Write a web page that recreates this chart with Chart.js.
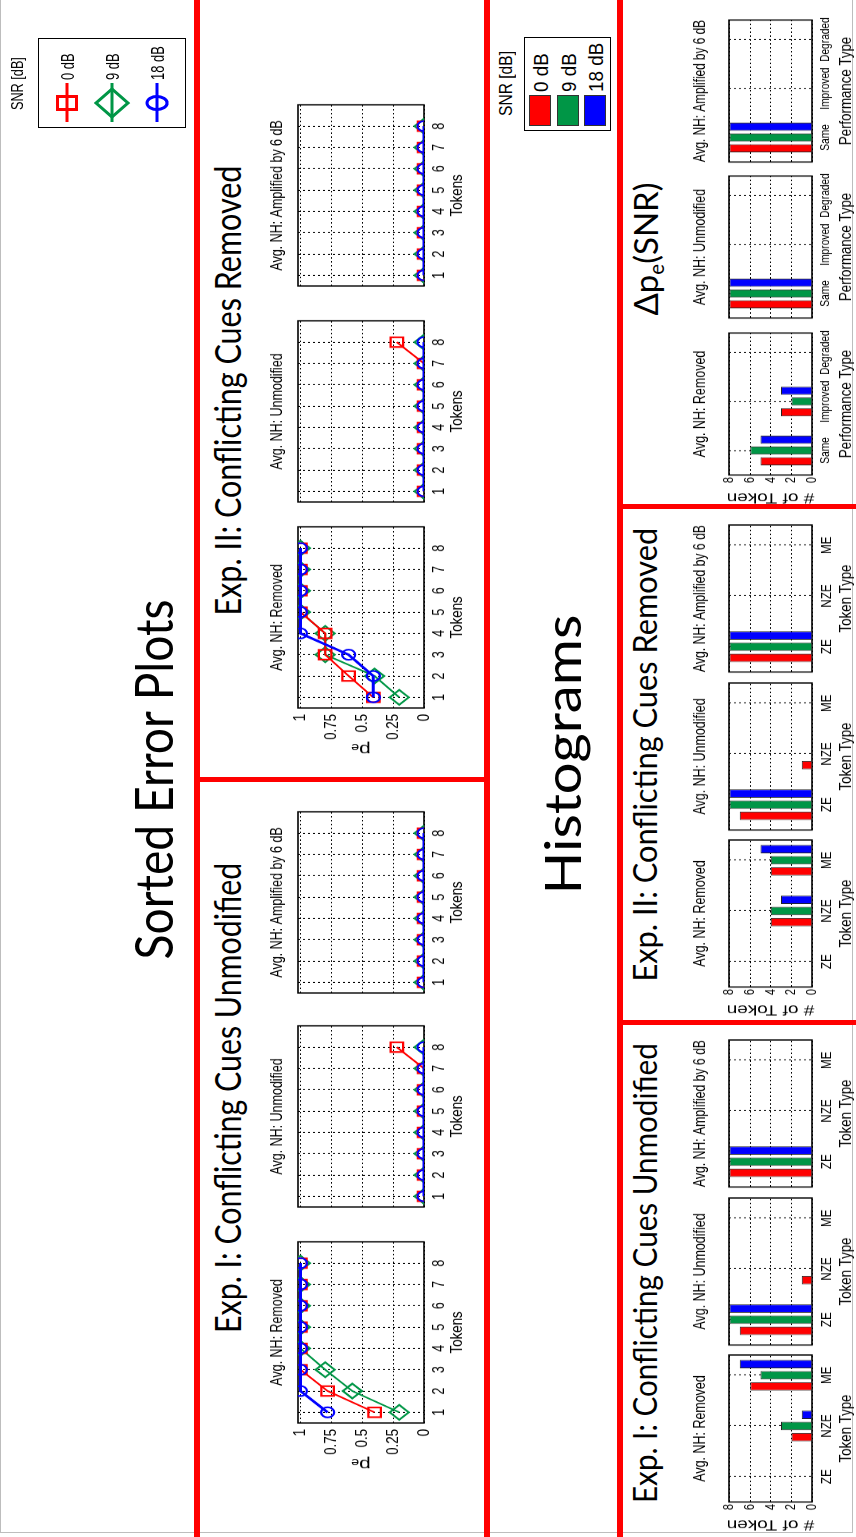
<!DOCTYPE html>
<html>
<head>
<meta charset="utf-8">
<script src="https://cdn.jsdelivr.net/npm/chart.js@4.4.1/dist/chart.umd.min.js"></script>
<style>
  html, body { margin: 0; padding: 0; background: #fff; width: 856px; height: 1537px; overflow: hidden; }
  #stage { position: absolute; left: 0; top: 0; width: 1537px; height: 856px; background: #fff;
           transform-origin: 0 0; transform: translateY(1537px) rotate(-90deg); }
  .red { position: absolute; background: #ff0000; }
  canvas { position: absolute; transform-origin: 0 0; }
  .txt { position: absolute; white-space: nowrap; line-height: 1; color: #000; }
  .legend { position: absolute; border: 1px solid #000; box-sizing: border-box; background: #fff; }
</style>
</head>
<body>
<div id="stage"></div>
<script>
/* global Chart */

const tokens = [1, 2, 3, 4, 5, 6, 7, 8];
const snrLabels = ["0 dB", "9 dB", "18 dB"];
const peTicks = [0, 0.25, 0.5, 0.75, 1];
const countTicks = [0, 2, 4, 6, 8];
const tokenTypes = ["ZE", "NZE", "ME"];
const perfTypes = ["Same", "Improved", "Degraded"];
const nhLabels = ["Avg. NH: Removed", "Avg. NH: Unmodified", "Avg. NH: Amplified by 6 dB"];

// sorted error plots, Exp. I (one array per SNR)
const exp1RemovedPe0 = [0.40, 0.78, 1, 1, 1, 1, 1, 1];
const exp1RemovedPe9 = [0.20, 0.58, 0.80, 1, 1, 1, 1, 1];
const exp1RemovedPe18 = [0.78, 1, 1, 1, 1, 1, 1, 1];
const exp1UnmodPe0 = [0, 0, 0, 0, 0, 0, 0, 0.22];
const exp1UnmodPe9 = [0, 0, 0, 0, 0, 0, 0, 0];
const exp1UnmodPe18 = [0, 0, 0, 0, 0, 0, 0, 0];
const exp1AmpPe0 = [0, 0, 0, 0, 0, 0, 0, 0];
const exp1AmpPe9 = [0, 0, 0, 0, 0, 0, 0, 0];
const exp1AmpPe18 = [0, 0, 0, 0, 0, 0, 0, 0];

// sorted error plots, Exp. II
const exp2RemovedPe0 = [0.41, 0.61, 0.80, 0.80, 1, 1, 1, 1];
const exp2RemovedPe9 = [0.20, 0.40, 0.80, 0.80, 1, 1, 1, 1];
const exp2RemovedPe18 = [0.41, 0.41, 0.61, 1, 1, 1, 1, 1];
const exp2UnmodPe0 = [0, 0, 0, 0, 0, 0, 0, 0.22];
const exp2UnmodPe9 = [0, 0, 0, 0, 0, 0, 0, 0];
const exp2UnmodPe18 = [0, 0, 0, 0, 0, 0, 0, 0];
const exp2AmpPe0 = [0, 0, 0, 0, 0, 0, 0, 0];
const exp2AmpPe9 = [0, 0, 0, 0, 0, 0, 0, 0];
const exp2AmpPe18 = [0, 0, 0, 0, 0, 0, 0, 0];

// histograms: number of tokens per token type (ZE, NZE, ME)
const exp1RemovedCount0 = [0, 2, 6];
const exp1RemovedCount9 = [0, 3, 5];
const exp1RemovedCount18 = [0, 1, 7];
const exp1UnmodCount0 = [7, 1, 0];
const exp1UnmodCount9 = [8, 0, 0];
const exp1UnmodCount18 = [8, 0, 0];
const exp1AmpCount0 = [8, 0, 0];
const exp1AmpCount9 = [8, 0, 0];
const exp1AmpCount18 = [8, 0, 0];

const exp2RemovedCount0 = [0, 4, 4];
const exp2RemovedCount9 = [0, 4, 4];
const exp2RemovedCount18 = [0, 3, 5];
const exp2UnmodCount0 = [7, 1, 0];
const exp2UnmodCount9 = [8, 0, 0];
const exp2UnmodCount18 = [8, 0, 0];
const exp2AmpCount0 = [8, 0, 0];
const exp2AmpCount9 = [8, 0, 0];
const exp2AmpCount18 = [8, 0, 0];

// delta pe(SNR): number of tokens per performance type (Same, Improved, Degraded)
const dpeRemovedCount0 = [5, 3, 0];
const dpeRemovedCount9 = [6, 2, 0];
const dpeRemovedCount18 = [5, 3, 0];
const dpeUnmodCount0 = [8, 0, 0];
const dpeUnmodCount9 = [8, 0, 0];
const dpeUnmodCount18 = [8, 0, 0];
const dpeAmpCount0 = [8, 0, 0];
const dpeAmpCount9 = [8, 0, 0];
const dpeAmpCount18 = [8, 0, 0];

const snrColors = ["#ff0000", "#009646", "#0000ff"];
const markers = ["rect", "rectRot", "circle"];
const markerSize = [8.8, 9.5, 6.5];
const lineWidths = [2, 2, 3];
const drawOrder = [1, 2, 0];

const SX = 0.78; // the figure is squeezed horizontally
const FONT = "'Liberation Sans', Arial, sans-serif";
const TXT = "#000";

const stage = document.getElementById("stage");

const framePlugin = {
  id: "frame",
  beforeDatasetsDraw(chart) {
    const a = chart.chartArea;
    const ctx = chart.ctx;
    ctx.save();
    ctx.strokeStyle = "#000";
    ctx.lineWidth = 1.6;
    ctx.strokeRect(a.left, a.top, a.right - a.left, a.bottom - a.top);
    ctx.restore();
  },
};

function makeCanvas(left, top, w, h) {
  const c = document.createElement("canvas");
  c.width = w;
  c.height = h;
  c.style.left = left + "px";
  c.style.top = top + "px";
  c.style.width = w + "px";
  c.style.height = h + "px";
  c.style.transform = "scaleX(" + SX + ")";
  stage.appendChild(c);
  return c.getContext("2d");
}

// ---- sorted error plots ----
const LINE_TOP = 298, LINE_H = 126, LINE_W = 184;

function lineChart(boxLeft, title, series, first) {
  const yw = 58, pl = 6, pr = 6, th = 28, pt = 2, xh = 45, pb = 2;
  const w = Math.round((LINE_W + yw + pl + pr) / SX);
  const h = LINE_H + th + pt + xh + pb;
  const ctx = makeCanvas(boxLeft - yw - pl, LINE_TOP - th - pt, w, h);
  return new Chart(ctx, {
    type: "line",
    data: {
      datasets: series.map((vals, k) => ({
        label: snrLabels[k],
        data: tokens.map((t, i) => ({ x: t, y: vals[i] })),
        borderColor: snrColors[k],
        backgroundColor: "rgba(0,0,0,0)",
        borderWidth: lineWidths[k],
        tension: 0,
        pointStyle: markers[k],
        pointRadius: markerSize[k],
        pointBorderWidth: 2.2,
        pointBorderColor: snrColors[k],
        pointBackgroundColor: "rgba(0,0,0,0)",
        order: drawOrder[k],
      })),
    },
    options: {
      responsive: false,
      animation: false,
      events: [],
      layout: { padding: { left: pl / SX, right: w - (pl + yw + LINE_W) / SX, top: pt, bottom: pb } },
      plugins: {
        legend: { display: false },
        tooltip: { enabled: false },
        title: {
          display: true, text: title, fullSize: false, color: TXT,
          font: { family: FONT, size: 16, weight: "normal", lineHeight: 1 },
          padding: { top: 0, bottom: 12 },
        },
      },
      scales: {
        x: {
          type: "linear", min: 0.5, max: 9,
          afterBuildTicks: (s) => { s.ticks = tokens.map((v) => ({ value: v })); },
          afterFit: (s) => { s.height = xh; },
          grid: { color: "#000", lineWidth: 1.1, drawTicks: false },
          border: { display: false, dash: [2, 3] },
          ticks: { padding: 6, color: TXT, font: { family: FONT, size: 16 }, maxRotation: 0, autoSkip: false,
                   callback: (v) => String(v) },
          title: { display: true, text: "Tokens", color: TXT, font: { family: FONT, size: 17, lineHeight: 1 },
                   padding: { top: 0, bottom: 3.5 } },
        },
        y: {
          min: 0, max: 1.02,
          afterBuildTicks: (s) => { s.ticks = peTicks.map((v) => ({ value: v })); },
          afterFit: (s) => { s.width = yw / SX; },
          grid: { color: "#000", lineWidth: 1, drawTicks: false },
          border: { display: false, dash: [2, 3] },
          ticks: { display: first, padding: 6 / SX, color: TXT, font: { family: FONT, size: 17 },
                   callback: (v) => String(v) },
          title: { display: first, text: "p\u2091", color: TXT, font: { family: FONT, size: 21, lineHeight: 1 },
                   padding: { top: 11.3, bottom: 0 } },
        },
      },
    },
    plugins: [framePlugin],
  });
}

// ---- histograms ----
const BAR_TOP = 729, BAR_H = 83, BAR_W = 147;

function barChart(boxLeft, title, cats, catTitle, series, first) {
  const yw = 32, pl = 2, pr = 3, th = 36, pt = 2, xh = 45, pb = 2;
  const w = Math.round((BAR_W + yw + pl + pr) / SX);
  const h = BAR_H + th + pt + xh + pb;
  const ctx = makeCanvas(boxLeft - yw - pl, BAR_TOP - th - pt, w, h);
  const tickSize = cats === perfTypes ? 13 : 15;
  return new Chart(ctx, {
    type: "bar",
    data: {
      datasets: series.map((vals, k) => ({
        label: snrLabels[k],
        data: cats.map((c, i) => ({ x: i + 1, y: vals[i] })),
        backgroundColor: snrColors[k],
        borderColor: "#222",
        borderWidth: 1,
        barPercentage: 0.75,
        categoryPercentage: 0.66,
      })),
    },
    options: {
      responsive: false,
      animation: false,
      events: [],
      layout: { padding: { left: pl / SX, right: w - (pl + yw + BAR_W) / SX, top: pt, bottom: pb } },
      plugins: {
        legend: { display: false },
        tooltip: { enabled: false },
        title: {
          display: true, text: title, fullSize: false, color: TXT,
          font: { family: FONT, size: 16, weight: "normal", lineHeight: 1 },
          padding: { top: 0, bottom: 20 },
        },
      },
      scales: {
        x: {
          type: "linear", min: 0.5, max: 3.4, offset: false,
          afterBuildTicks: (s) => { s.ticks = cats.map((c, i) => ({ value: i + 1 })); },
          afterFit: (s) => { s.height = xh; },
          grid: { offset: false, color: "#000", lineWidth: 1.1, drawTicks: false },
          border: { display: false, dash: [2, 3] },
          ticks: { padding: 5.5, color: TXT, font: { family: FONT, size: tickSize }, maxRotation: 0, autoSkip: false,
                   callback: (v, i) => cats[i] },
          title: { display: true, text: catTitle, color: TXT, font: { family: FONT, size: 17, lineHeight: 1 },
                   padding: { top: 0, bottom: 2.5 } },
        },
        y: {
          min: 0, max: 8.05,
          afterBuildTicks: (s) => { s.ticks = countTicks.map((v) => ({ value: v })); },
          afterFit: (s) => { s.width = yw / SX; },
          grid: { color: "#000", lineWidth: 1, drawTicks: false },
          border: { display: false, dash: [2, 3] },
          ticks: { display: first, padding: 2 / SX, color: TXT, font: { family: FONT, size: 14 },
                   callback: (v) => String(v) },
          title: { display: first, text: "# of Token", color: TXT, font: { family: FONT, size: 19, lineHeight: 1 },
                   padding: { top: 2.8, bottom: 0 } },
        },
      },
    },
    plugins: [framePlugin],
  });
}

function addText(html, x, y, size, family, opt) {
  const d = document.createElement("div");
  d.className = "txt";
  d.innerHTML = html;
  d.style.fontSize = size + "px";
  d.style.fontFamily = family;
  stage.appendChild(d);
  const w = d.offsetWidth, h = d.offsetHeight;
  const k = opt.width ? opt.width / w : (opt.scale || 1);
  const left = opt.anchor === "left" ? x : x - w / 2;
  d.style.left = left + "px";
  d.style.top = (y - h / 2) + "px";
  d.style.transformOrigin = opt.anchor === "left" ? "0 50%" : "50% 50%";
  d.style.transform = "scaleX(" + k + ")";
}

function addRed(l, t, w, h) {
  const d = document.createElement("div");
  d.className = "red";
  d.style.left = l + "px"; d.style.top = t + "px";
  d.style.width = w + "px"; d.style.height = h + "px";
  stage.appendChild(d);
}

// outer thin frame and red separators
const outer = document.createElement("div");
outer.style.cssText = "position:absolute;left:4px;top:0;width:1533px;height:853px;box-sizing:border-box;" +
  "border-left:1px solid #bdbdbd;border-top:1px solid #bdbdbd;border-bottom:1px solid #bdbdbd;";
stage.appendChild(outer);

addRed(0, 194, 1537, 6);
addRed(0, 484, 1537, 6);
addRed(0, 617, 1537, 6);
addRed(755, 197, 5, 290);
addRed(512, 620, 5, 236);
addRed(1028, 620, 5, 236);

// titles
const TITLE_FONT = "Lato, 'Open Sans', sans-serif";
addText("Sorted Error Plots", 757, 153, 52, TITLE_FONT, { width: 360 });
addText("Exp. I: Conflicting Cues Unmodified", 439, 227, 36, TITLE_FONT, { width: 470 });
addText("Exp. II: Conflicting Cues Removed", 1146, 227, 36, TITLE_FONT, { width: 450 });
addText("Histograms", 782, 562, 50, TITLE_FONT, { width: 280 });
addText("Exp. I: Conflicting Cues Unmodified", 264, 644, 33, TITLE_FONT, { width: 460 });
addText("Exp. II: Conflicting Cues Removed", 782, 644, 33, TITLE_FONT, { width: 454 });
addText("\u0394p<span style=\"font-size:0.62em;position:relative;top:0.3em\">e</span>(SNR)", 1288, 645, 33,
  TITLE_FONT, { width: 133 });

// sorted error plots
const exp1LineLefts = [114, 330, 544];
const exp2LineLefts = [829, 1035, 1251];
lineChart(exp1LineLefts[0], nhLabels[0], [exp1RemovedPe0, exp1RemovedPe9, exp1RemovedPe18], true);
lineChart(exp1LineLefts[1], nhLabels[1], [exp1UnmodPe0, exp1UnmodPe9, exp1UnmodPe18], false);
lineChart(exp1LineLefts[2], nhLabels[2], [exp1AmpPe0, exp1AmpPe9, exp1AmpPe18], false);
lineChart(exp2LineLefts[0], nhLabels[0], [exp2RemovedPe0, exp2RemovedPe9, exp2RemovedPe18], true);
lineChart(exp2LineLefts[1], nhLabels[1], [exp2UnmodPe0, exp2UnmodPe9, exp2UnmodPe18], false);
lineChart(exp2LineLefts[2], nhLabels[2], [exp2AmpPe0, exp2AmpPe9, exp2AmpPe18], false);

// histograms
const exp1BarLefts = [35, 192, 350];
const exp2BarLefts = [550, 707, 865];
const dpeBarLefts = [1062, 1219, 1375];
barChart(exp1BarLefts[0], nhLabels[0], tokenTypes, "Token Type", [exp1RemovedCount0, exp1RemovedCount9, exp1RemovedCount18], true);
barChart(exp1BarLefts[1], nhLabels[1], tokenTypes, "Token Type", [exp1UnmodCount0, exp1UnmodCount9, exp1UnmodCount18], false);
barChart(exp1BarLefts[2], nhLabels[2], tokenTypes, "Token Type", [exp1AmpCount0, exp1AmpCount9, exp1AmpCount18], false);
barChart(exp2BarLefts[0], nhLabels[0], tokenTypes, "Token Type", [exp2RemovedCount0, exp2RemovedCount9, exp2RemovedCount18], true);
barChart(exp2BarLefts[1], nhLabels[1], tokenTypes, "Token Type", [exp2UnmodCount0, exp2UnmodCount9, exp2UnmodCount18], false);
barChart(exp2BarLefts[2], nhLabels[2], tokenTypes, "Token Type", [exp2AmpCount0, exp2AmpCount9, exp2AmpCount18], false);
barChart(dpeBarLefts[0], nhLabels[0], perfTypes, "Performance Type", [dpeRemovedCount0, dpeRemovedCount9, dpeRemovedCount18], true);
barChart(dpeBarLefts[1], nhLabels[1], perfTypes, "Performance Type", [dpeUnmodCount0, dpeUnmodCount9, dpeUnmodCount18], false);
barChart(dpeBarLefts[2], nhLabels[2], perfTypes, "Performance Type", [dpeAmpCount0, dpeAmpCount9, dpeAmpCount18], false);

// legend for the line plots
(function () {
  const box = document.createElement("div");
  box.className = "legend";
  box.style.cssText += "left:1409px;top:38px;width:90px;height:148px;";
  const c = document.createElement("canvas");
  c.width = 88; c.height = 146;
  c.style.left = "0px"; c.style.top = "0px";
  box.appendChild(c);
  stage.appendChild(box);
  const g = c.getContext("2d");
  const rows = [28, 73, 118];
  g.lineWidth = 3;
  rows.forEach((y, k) => {
    g.strokeStyle = snrColors[k];
    g.beginPath(); g.moveTo(5, y); g.lineTo(44, y); g.stroke();
    g.beginPath();
    if (k === 0) g.rect(24 - 6.5, y - 9.5, 13, 19);
    if (k === 1) { g.moveTo(24 - 14, y); g.lineTo(24, y - 16); g.lineTo(24 + 14, y); g.lineTo(24, y + 16); g.closePath(); }
    if (k === 2) g.ellipse(24, y, 6.5, 10, 0, 0, Math.PI * 2);
    g.stroke();
    addText(snrLabels[k], 1457, 38 + y + 1, 19, FONT, { scale: 0.68, anchor: "left" });
  });
  addText("SNR [dB]", 1453, 17, 17, FONT, { width: 53 });
})();

// legend for the histograms
(function () {
  const box = document.createElement("div");
  box.className = "legend";
  box.style.cssText += "left:1406px;top:524px;width:94px;height:87px;";
  stage.appendChild(box);
  const rows = [4, 32, 59];
  rows.forEach((y, k) => {
    const s = document.createElement("div");
    s.style.cssText = "position:absolute;left:4px;width:31px;height:22px;box-sizing:border-box;border:1px solid #333;";
    s.style.top = y + "px";
    s.style.background = snrColors[k];
    box.appendChild(s);
    addText(snrLabels[k], 1445, 524 + y + 12, 21, FONT, { scale: 0.9, anchor: "left" });
  });
  addText("SNR [dB]", 1453, 506, 18, FONT, { width: 65 });
})();
</script>
</body>
</html>
